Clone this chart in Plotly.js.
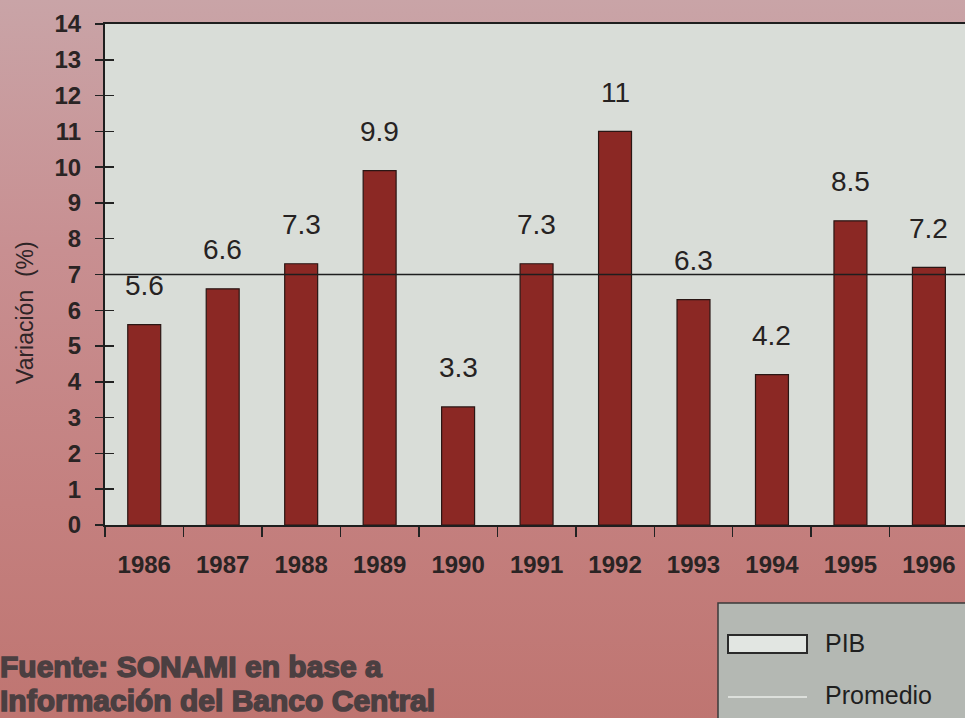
<!DOCTYPE html>
<html>
<head>
<meta charset="utf-8">
<script src="https://cdn.plot.ly/plotly-3.0.1.min.js"></script>
<style>
html,body{margin:0;padding:0;}
body{width:965px;height:718px;overflow:hidden;
background:linear-gradient(to bottom,#c9a4a7 0%,#c88f91 35%,#c4807f 70%,#bf7571 100%);}
#chart{width:965px;height:718px;}
g.annotation text[data-unformatted*="SONAMI"],
g.annotation text[data-unformatted*="Banco"]{stroke:#4b3f41;stroke-width:1.5px;}
</style>
</head>
<body>
<div id="chart"></div>
<script>
const years = ['1986','1987','1988','1989','1990','1991','1992','1993','1994','1995','1996'];
const pib = [5.6, 6.6, 7.3, 9.9, 3.3, 7.3, 11, 6.3, 4.2, 8.5, 7.2];
const promedio = 7;
const yTicks = [0,1,2,3,4,5,6,7,8,9,10,11,12,13,14];
const yTitle = 'Variación  (%)';
const legendLabels = ['PIB', 'Promedio'];
const sourceLines = ['Fuente: SONAMI en base a', 'Información del Banco Central'];

const sans = '"Liberation Sans", Arial, Helvetica, sans-serif';

const traces = [
  {
    type: 'bar', x: years, y: pib, width: 0.42,
    marker: {color: '#8b2824', line: {color: '#2a1614', width: 1.2}},
    hoverinfo: 'x+y', showlegend: false
  },
  {
    type: 'scatter', mode: 'markers', x: years, y: pib, yaxis: 'y2',
    marker: {opacity: 0}, hoverinfo: 'skip', showlegend: false
  }
];

const annotations = pib.map((v, i) => ({
  x: i, y: v, xref: 'x', yref: 'y', text: String(v),
  showarrow: false, xanchor: 'center', yanchor: 'middle', yshift: 39,
  font: {family: sans, size: 28, color: '#262222'}
}));

// y-axis title
annotations.push({
  xref: 'paper', yref: 'paper', x: (25 - 105) / 860, y: (525 - 313) / 501,
  text: yTitle, textangle: -90, showarrow: false, xanchor: 'center', yanchor: 'middle',
  font: {family: sans, size: 23, color: '#2e2426'}
});

// legend texts
annotations.push({
  xref: 'paper', yref: 'paper', x: (823 - 105) / 860, y: (525 - 643) / 501,
  text: legendLabels[0], showarrow: false, xanchor: 'left', yanchor: 'middle',
  font: {family: sans, size: 25, color: '#1f1f1f'}
});
annotations.push({
  xref: 'paper', yref: 'paper', x: (823 - 105) / 860, y: (525 - 695) / 501,
  text: legendLabels[1], showarrow: false, xanchor: 'left', yanchor: 'middle',
  font: {family: sans, size: 25, color: '#1f1f1f'}
});

// source text
sourceLines.forEach((t, i) => {
  annotations.push({
    xref: 'paper', yref: 'paper', x: (-2 - 105) / 860, y: (525 - (666 + i * 34)) / 501,
    text: '<b>' + t + '</b>', showarrow: false, xanchor: 'left', yanchor: 'middle',
    font: {family: sans, size: 30, color: '#4b3f41'}
  });
});

const shapes = [
  // promedio line
  {type: 'line', xref: 'paper', yref: 'y', x0: 0, x1: 1, y0: promedio, y1: promedio,
   line: {color: '#1e1e1e', width: 1.6}},
  // legend box
  {type: 'rect', xref: 'paper', yref: 'paper', layer: 'above',
   x0: (718 - 105) / 860, x1: (975 - 105) / 860, y0: (525 - 603) / 501, y1: (525 - 730) / 501,
   fillcolor: '#b4b8b3', line: {color: '#3a3a3a', width: 1.5}},
  // legend PIB swatch
  {type: 'rect', xref: 'paper', yref: 'paper', layer: 'above',
   x0: (728 - 105) / 860, x1: (807 - 105) / 860, y0: (525 - 635) / 501, y1: (525 - 653) / 501,
   fillcolor: '#e2e6e2', line: {color: '#2a2a2a', width: 2}},
  // legend Promedio swatch
  {type: 'line', xref: 'paper', yref: 'paper', layer: 'above',
   x0: (728 - 105) / 860, x1: (807 - 105) / 860, y0: (525 - 697) / 501, y1: (525 - 697) / 501,
   line: {color: '#dcdfdb', width: 2}}
];

const layout = {
  width: 965, height: 718,
  margin: {l: 105, r: 0, t: 24, b: 193, pad: 0},
  paper_bgcolor: 'rgba(0,0,0,0)',
  plot_bgcolor: '#d9ddd8',
  showlegend: false,
  xaxis: {
    type: 'category', range: [-0.5, 10.46], tickson: 'boundaries',
    ticks: 'outside', ticklen: 10, tickwidth: 1.5, tickcolor: '#222',
    showline: true, linecolor: '#1e1e1e', linewidth: 2, mirror: true,
    showgrid: false, zeroline: false, ticklabelstandoff: 17,
    tickfont: {family: sans, size: 24, color: '#2a2424', weight: 'bold'},
    fixedrange: true
  },
  yaxis: {
    range: [0, 14], tickvals: yTicks, ticktext: yTicks.map(String),
    ticks: 'outside', ticklen: 8, tickwidth: 1.5, tickcolor: '#222',
    showline: true, linecolor: '#1e1e1e', linewidth: 2,
    showgrid: false, zeroline: false, ticklabelstandoff: 9,
    tickfont: {family: sans, size: 24, color: '#2a2424', weight: 'bold'},
    fixedrange: true
  },
  yaxis2: {
    overlaying: 'y', side: 'left', range: [0, 14], tickvals: yTicks,
    ticks: 'inside', ticklen: 9, tickwidth: 1.5, tickcolor: '#222',
    showticklabels: false, showline: false, showgrid: false, zeroline: false,
    fixedrange: true
  },
  annotations: annotations,
  shapes: shapes
};

Plotly.newPlot('chart', traces, layout, {displayModeBar: false, staticPlot: true});
</script>
</body>
</html>
